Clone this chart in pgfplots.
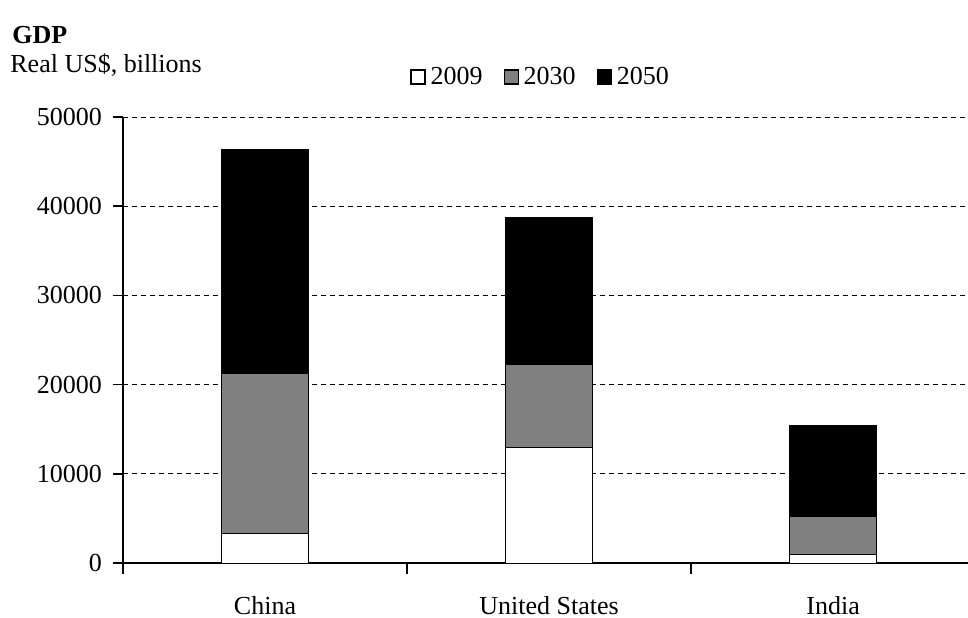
\documentclass[border=0pt]{standalone}
\usepackage{pgfplots}
\pgfplotsset{compat=1.18}
\usepackage{fontspec}
\setmainfont{Liberation Serif}
\begin{document}
\begin{tikzpicture}[font=\fontsize{13}{15}\selectfont]
\useasboundingbox (0,0) rectangle (484pt,308.5pt);
\begin{axis}[
  at={(61.5pt,27pt)}, anchor=south west,
  scale only axis, width=422.5pt, height=223pt,
  xmin=-0.5, xmax=2.475, ymin=0, ymax=50000,
  axis x line=bottom, axis y line=left,
  axis line style={-, line width=0.75pt},
  xtick={0,1,2}, xticklabels={China, United States, India},
  major x tick style={draw=none},
  minor xtick={-0.5,0.5,1.5},
  minor tick length=5.5pt,
  ytick={0,10000,...,50000},
  tick align=outside, major tick length=5pt,
  tick style={black, line width=0.75pt},
  scaled y ticks=false,
  yticklabel style={/pgf/number format/fixed, /pgf/number format/set thousands separator={}, /pgf/number format/assume math mode=true, xshift=-2pt},
  xticklabel style={yshift=-8pt},
  ymajorgrids, grid style={black, dash pattern=on 2.5pt off 2pt, line width=0.5pt},
  bar width=0.306, bar shift=0pt,
  legend style={at={(axis description cs:0.496,1)}, anchor=center, yshift=20pt, draw=none, fill=none,
    legend columns=-1, /tikz/every even column/.append style={column sep=8pt},
    /tikz/every odd column/.append style={column sep=0pt},
    inner sep=0pt, nodes={inner xsep=2.5pt}},
  legend image code/.code={\draw[#1, line width=0.6pt] (0pt,-3.5pt) rectangle (7pt,3.5pt);},
]
\addplot[ybar, fill=black, draw=black, line width=0.5pt, forget plot] coordinates {(0,46400) (1,38780) (2,15470)};
\addplot[ybar, fill=black!50, draw=black, line width=0.5pt, forget plot] coordinates {(0,21200) (1,22200) (2,5190)};
\addplot[ybar, fill=white, draw=black, line width=0.5pt, forget plot] coordinates {(0,3360) (1,12930) (2,980)};
\addlegendimage{fill=white, draw=black}
\addlegendentry{2009}
\addlegendimage{fill=black!50, draw=black}
\addlegendentry{2030}
\addlegendimage{fill=black, draw=black}
\addlegendentry{2050}
\end{axis}
\node[anchor=west, inner sep=0pt, font=\fontsize{13}{15}\selectfont\bfseries] at (6pt,291pt) {GDP};
\node[anchor=west, inner sep=0pt] at (5pt,276pt) {Real US\$, billions};
\end{tikzpicture}
\end{document}
